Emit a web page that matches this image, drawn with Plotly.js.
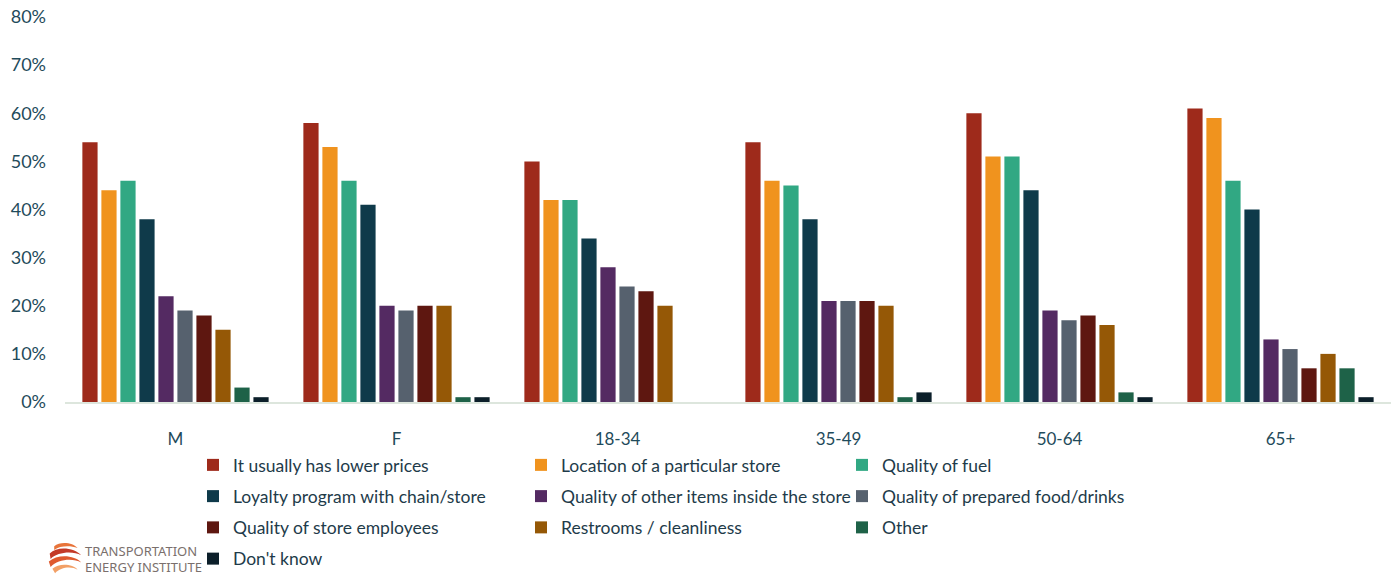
<!DOCTYPE html>
<html>
<head>
<meta charset="utf-8">
<script src="https://cdn.plot.ly/plotly-3.0.1.min.js"></script>
<style>html,body{margin:0;padding:0;background:#fff;}#chart{width:1395px;height:577px;}</style>
</head>
<body>
<div id="chart"></div>
<script>
const categories = ["M", "F", "18-34", "35-49", "50-64", "65+"];
const seriesNames = [
  "It usually has lower prices",
  "Location of a particular store",
  "Quality of fuel",
  "Loyalty program with chain/store",
  "Quality of other items inside the store",
  "Quality of prepared food/drinks",
  "Quality of store employees",
  "Restrooms / cleanliness",
  "Other",
  "Don't know"
];
const lowerPrices   = [0.54, 0.58, 0.50, 0.54, 0.60, 0.61];
const storeLocation = [0.44, 0.53, 0.42, 0.46, 0.51, 0.59];
const fuelQuality   = [0.46, 0.46, 0.42, 0.45, 0.51, 0.46];
const loyalty       = [0.38, 0.41, 0.34, 0.38, 0.44, 0.40];
const otherItems    = [0.22, 0.20, 0.28, 0.21, 0.19, 0.13];
const preparedFood  = [0.19, 0.19, 0.24, 0.21, 0.17, 0.11];
const employees     = [0.18, 0.20, 0.23, 0.21, 0.18, 0.07];
const restrooms     = [0.15, 0.20, 0.20, 0.20, 0.16, 0.10];
const otherReason   = [0.03, 0.01, 0.00, 0.01, 0.02, 0.07];
const dontKnow      = [0.01, 0.01, 0.00, 0.02, 0.01, 0.01];
const yTickValues   = [0, 0.1, 0.2, 0.3, 0.4, 0.5, 0.6, 0.7, 0.8];

const seriesValues = [lowerPrices, storeLocation, fuelQuality, loyalty, otherItems,
  preparedFood, employees, restrooms, otherReason, dontKnow];
const colors = ["#9e2a1b", "#f0931e", "#31a883", "#0f3a4a", "#542a62",
  "#56616e", "#5e1710", "#955806", "#1e6248", "#0c1f2a"];
const legendOf = ["legend", "legend2", "legend3", "legend", "legend2",
  "legend3", "legend", "legend2", "legend3", "legend"];

const traces = seriesNames.map((name, i) => ({
  type: "bar",
  name: name,
  x: categories,
  y: seriesValues[i],
  marker: {color: colors[i], line: {width: 0}},
  legend: legendOf[i],
  legendgroup: "g" + i,
  hoverinfo: "x+y+name"
}));

const textColor = "#1f4b5b";
const legendCommon = {
  orientation: "v",
  xref: "container", yref: "container",
  xanchor: "left", yanchor: "top",
  y: 1 - 447 / 577,
  font: {family: "Lato, 'Noto Sans', sans-serif", size: 17.5, color: "#1e3b4a"},
  bgcolor: "rgba(0,0,0,0)",
  tracegroupgap: 5.5,
  itemwidth: 30,
  traceorder: "grouped"
};

const swirl = '<svg xmlns="http://www.w3.org/2000/svg" viewBox="0 0 40 40">' +
  '<path d="M8 7 C15 1 29 3 34 9 C26 6 15 6 8 11 Z" fill="#e8743a"/>' +
  '<path d="M3 15 C12 6 31 9 38 17 C29 12 12 13 4 21 Z" fill="#c33a28"/>' +
  '<path d="M2 24 C12 15 31 17 38 25 C29 20 12 21 4 30 Z" fill="#df5a2e"/>' +
  '<path d="M6 32 C14 25 29 27 34 33 C27 29 15 30 9 37 Z" fill="#f2a066"/>' +
  '</svg>';

const layout = {
  width: 1395, height: 577,
  margin: {l: 65, r: 4, t: 17, b: 175, autoexpand: false},
  paper_bgcolor: "#ffffff",
  plot_bgcolor: "#ffffff",
  barmode: "group",
  bargap: 0.14,
  bargroupgap: 0.2,
  font: {family: "Lato, 'Noto Sans', sans-serif", color: textColor},
  showlegend: true,
  xaxis: {
    type: "category",
    automargin: false,
    showgrid: false,
    zeroline: false,
    showline: true,
    linecolor: "#dde6dd",
    linewidth: 2,
    ticks: "",
    ticklabelstandoff: 21,
    tickfont: {family: "Lato, 'Noto Sans', sans-serif", size: 17, color: textColor}
  },
  yaxis: {
    range: [0, 0.8],
    automargin: false,
    tickvals: yTickValues,
    tickformat: ".0%",
    showgrid: false,
    zeroline: false,
    showline: false,
    ticks: "",
    ticklabelstandoff: 18,
    tickfont: {family: "Lato, 'Noto Sans', sans-serif", size: 18, color: textColor}
  },
  legend: Object.assign({}, legendCommon, {x: 193 / 1395}),
  legend2: Object.assign({}, legendCommon, {x: 521 / 1395}),
  legend3: Object.assign({}, legendCommon, {x: 842 / 1395}),
  images: [{
    source: "data:image/svg+xml;charset=utf-8," + encodeURIComponent(swirl),
    xref: "paper", yref: "paper",
    x: (47 - 65) / 1326, y: -(576 - 402) / 385,
    sizex: 36 / 1326, sizey: 36 / 385,
    xanchor: "left", yanchor: "bottom",
    layer: "above"
  }],
  annotations: [
    {text: "TRANSPORTATION", xref: "paper", yref: "paper",
     x: (83 - 65) / 1326, y: -(551 - 402) / 385, xanchor: "left", yanchor: "middle",
     showarrow: false, font: {family: "'Liberation Sans Narrow', 'Noto Sans', sans-serif", size: 13, color: "#7a6f6c"}},
    {text: "ENERGY INSTITUTE", xref: "paper", yref: "paper",
     x: (83 - 65) / 1326, y: -(567 - 402) / 385, xanchor: "left", yanchor: "middle",
     showarrow: false, font: {family: "'Liberation Sans Narrow', 'Noto Sans', sans-serif", size: 13, color: "#7a6f6c"}}
  ]
};

Plotly.newPlot("chart", traces, layout, {displayModeBar: false, responsive: false});
</script>
</body>
</html>
